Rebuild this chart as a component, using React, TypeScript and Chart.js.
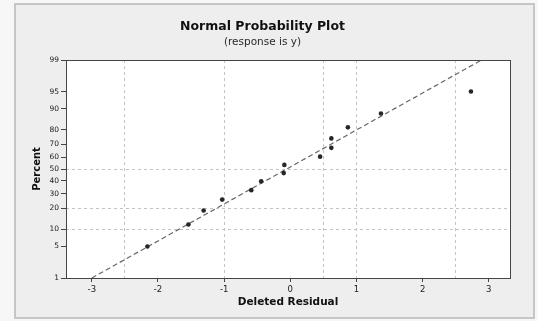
import React, { useEffect, useRef } from "react";
import { Chart, registerables } from "chart.js";

Chart.register(...registerables);

// ---- data ----
const residuals = [-2.16, -1.54, -1.31, -1.03, -0.59, -0.44, -0.1, -0.09, 0.45, 0.62, 0.62, 0.87, 1.37, 2.73];
const percents = [4.9, 11.8, 18.8, 25.7, 32.6, 39.6, 46.5, 53.5, 60.4, 67.4, 74.3, 81.3, 88.2, 95.1];
const fitResiduals = [-3.0, 2.89];
const fitPercents = [1, 99];
const xTickValues = [-3, -2, -1, 0, 1, 2, 3];
const xGridValues = [-2.5, -1, 0.5, 1, 2.5];
const yTickPercents = [1, 5, 10, 20, 30, 40, 50, 60, 70, 80, 90, 95, 99];
const yGridPercents = [10, 20, 50];
const xMin = -3.39;
const xMax = 3.32;

// inverse standard normal CDF (Acklam) – used as the probability-scale mapping
function probit(p: number): number {
  const a = [-3.969683028665376e1, 2.209460984245205e2, -2.759285104469687e2, 1.38357751867269e2, -3.066479806614716e1, 2.506628277459239];
  const b = [-5.447609879822406e1, 1.615858368580409e2, -1.556989798598866e2, 6.680131188771972e1, -1.328068155288572e1];
  const c = [-7.784894002430293e-3, -3.223964580411365e-1, -2.400758277161838, -2.549732539343734, 4.374664141464968, 2.938163982698783];
  const d = [7.784695709041462e-3, 3.224671290700398e-1, 2.445134137142996, 3.754408661907416];
  const pl = 0.02425;
  const ph = 1 - pl;
  if (p < pl) {
    const q = Math.sqrt(-2 * Math.log(p));
    return (((((c[0] * q + c[1]) * q + c[2]) * q + c[3]) * q + c[4]) * q + c[5]) / ((((d[0] * q + d[1]) * q + d[2]) * q + d[3]) * q + 1);
  }
  if (p <= ph) {
    const q = p - 0.5;
    const r = q * q;
    return ((((((a[0] * r + a[1]) * r + a[2]) * r + a[3]) * r + a[4]) * r + a[5]) * q) / (((((b[0] * r + b[1]) * r + b[2]) * r + b[3]) * r + b[4]) * r + 1);
  }
  const q = Math.sqrt(-2 * Math.log(1 - p));
  return -(((((c[0] * q + c[1]) * q + c[2]) * q + c[3]) * q + c[4]) * q + c[5]) / ((((d[0] * q + d[1]) * q + d[2]) * q + d[3]) * q + 1);
}

const FONT = "'DejaVu Sans', Verdana, sans-serif";

const xAllTicks = Array.from(new Set([...xTickValues, ...xGridValues])).sort((m, n) => m - n);

const plotFrame = {
  id: "plotFrame",
  beforeDraw(chart: any) {
    const { ctx, chartArea } = chart;
    ctx.save();
    ctx.fillStyle = "#ffffff";
    ctx.fillRect(chartArea.left, chartArea.top, chartArea.right - chartArea.left, chartArea.bottom - chartArea.top);
    ctx.restore();
  },
  afterDatasetsDraw(chart: any) {
    const { ctx, chartArea } = chart;
    ctx.save();
    ctx.strokeStyle = "#454545";
    ctx.lineWidth = 1;
    ctx.strokeRect(Math.round(chartArea.left) + 0.5, Math.round(chartArea.top) + 0.5, Math.round(chartArea.right - chartArea.left), Math.round(chartArea.bottom - chartArea.top));
    ctx.restore();
  },
};

export default function App() {
  const ref = useRef<HTMLCanvasElement | null>(null);

  useEffect(() => {
    if (!ref.current) return;
    const chart = new Chart(ref.current, {
      type: "scatter",
      data: {
        datasets: [
          {
            label: "fit",
            data: fitResiduals.map((x, i) => ({ x, y: probit(fitPercents[i] / 100) })),
            showLine: true,
            borderColor: "#666666",
            borderWidth: 1.2,
            borderDash: [5, 3],
            pointRadius: 0,
            order: 2,
          },
          {
            label: "residuals",
            data: residuals.map((x, i) => ({ x, y: probit(percents[i] / 100) })),
            showLine: false,
            pointRadius: 2.3,
            pointBackgroundColor: "#262626",
            pointBorderWidth: 0,
            order: 1,
          },
        ],
      },
      options: {
        animation: false,
        responsive: false,
        layout: { padding: { left: 0, right: 23, top: 0, bottom: 0 } },
        plugins: {
          legend: { display: false },
          tooltip: { enabled: false },
          title: {
            display: true,
            text: "Normal Probability Plot",
            color: "#111111",
            font: { family: FONT, size: 12.5, weight: "bold" },
            padding: { top: 14, bottom: 1 },
          },
          subtitle: {
            display: true,
            text: "(response is y)",
            color: "#2a2a2a",
            font: { family: FONT, size: 10.5, weight: "normal" },
            padding: { top: 0.7, bottom: 11.7 },
          },
        },
        scales: {
          x: {
            type: "linear",
            min: xMin,
            max: xMax,
            bounds: "data",
            afterBuildTicks: (scale: any) => {
              scale.ticks = xAllTicks.map((v) => ({ value: v }));
            },
            afterFit: (scale: any) => {
              scale.height = 39;
            },
            ticks: {
              autoSkip: false,
              maxRotation: 0,
              padding: 3,
              color: "#1a1a1a",
              font: { family: FONT, size: 8.5 },
              callback: (value: any) => (xTickValues.includes(Number(value)) ? String(value) : ""),
            },
            grid: {
              drawOnChartArea: true,
              drawTicks: true,
              tickLength: 4,
              lineWidth: 1,
              color: (ctx: any) => (ctx.tick && xGridValues.includes(ctx.tick.value) ? "#c4c4c4" : "rgba(0,0,0,0)"),
              tickColor: (ctx: any) => (ctx.tick && xTickValues.includes(ctx.tick.value) ? "#454545" : "rgba(0,0,0,0)"),
            },
            border: { display: false, dash: [3, 3] },
            title: {
              display: true,
              text: "Deleted Residual",
              color: "#111111",
              font: { family: FONT, size: 10.5, weight: "bold" },
              padding: { top: 0, bottom: 8.2 },
            },
          },
          y: {
            type: "linear",
            min: probit(yTickPercents[0] / 100),
            max: probit(yTickPercents[yTickPercents.length - 1] / 100),
            bounds: "data",
            afterBuildTicks: (scale: any) => {
              scale.ticks = yTickPercents.map((p) => ({ value: probit(p / 100) }));
            },
            afterFit: (scale: any) => {
              scale.width = 51;
            },
            ticks: {
              autoSkip: false,
              padding: 2,
              color: "#1a1a1a",
              font: { family: FONT, size: 7.5 },
              callback: (_v: any, index: number) => String(yTickPercents[index]),
            },
            grid: {
              drawOnChartArea: true,
              drawTicks: true,
              tickLength: 5,
              lineWidth: 1,
              color: (ctx: any) => (ctx.index !== undefined && yGridPercents.includes(yTickPercents[ctx.index]) ? "#c4c4c4" : "rgba(0,0,0,0)"),
              tickColor: "#454545",
            },
            border: { display: false, dash: [3, 3] },
            title: {
              display: true,
              text: "Percent",
              color: "#111111",
              font: { family: FONT, size: 10, weight: "bold" },
              padding: { top: 16, bottom: 0 },
            },
          },
        },
      },
      plugins: [plotFrame],
    } as any);
    return () => chart.destroy();
  }, []);

  return (
    <div style={{ position: "fixed", left: 0, top: 0, width: 538, height: 321, background: "#f7f7f7", overflow: "hidden" }}>
      <div
        style={{
          position: "absolute",
          left: 14,
          top: 3,
          width: 521,
          height: 316,
          boxSizing: "border-box",
          border: "2px solid #c6c6c6",
          background: "#eeeeee",
        }}
      />
      <canvas
        ref={ref}
        width={518}
        height={312}
        style={{ position: "absolute", left: 15, top: 5, width: 518, height: 312 }}
      />
    </div>
  );
}
